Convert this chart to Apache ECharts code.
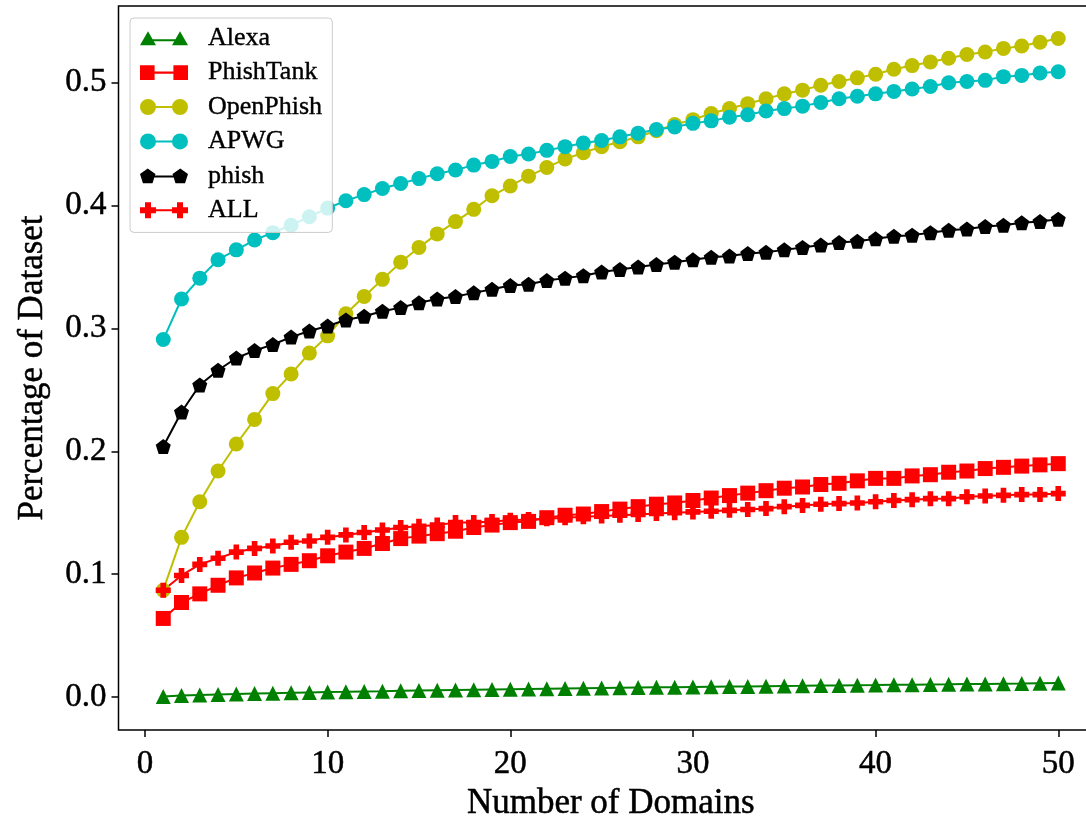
<!DOCTYPE html>
<html>
<head>
<meta charset="utf-8">
<script src="https://cdn.jsdelivr.net/npm/echarts@6/dist/echarts.min.js"></script>
<style>
  html, body { margin: 0; padding: 0; background: #fff; }
  #chart { width: 1086px; height: 817px; }
</style>
</head>
<body>
<div id="chart"></div>
<script>
// x values: number of domains
const domains = [1, 2, 3, 4, 5, 6, 7, 8, 9, 10, 11, 12, 13, 14, 15, 16, 17, 18, 19, 20,
  21, 22, 23, 24, 25, 26, 27, 28, 29, 30, 31, 32, 33, 34, 35, 36, 37, 38, 39, 40,
  41, 42, 43, 44, 45, 46, 47, 48, 49, 50];

const alexa = [0.0005, 0.0012, 0.0017, 0.0021, 0.0025, 0.0029, 0.0032, 0.0035, 0.0038, 0.0041,
  0.0043, 0.0046, 0.0048, 0.0051, 0.0053, 0.0055, 0.0057, 0.0059, 0.0061, 0.0063,
  0.0065, 0.0067, 0.0069, 0.0071, 0.0073, 0.0075, 0.0077, 0.0079, 0.0080, 0.0082,
  0.0084, 0.0086, 0.0087, 0.0089, 0.0091, 0.0092, 0.0094, 0.0095, 0.0097, 0.0098,
  0.0100, 0.0101, 0.0103, 0.0104, 0.0106, 0.0107, 0.0109, 0.0110, 0.0112, 0.0114];

const phishTank = [0.064, 0.077, 0.084, 0.091, 0.097, 0.101, 0.105, 0.108, 0.111, 0.115,
  0.118, 0.121, 0.125, 0.129, 0.131, 0.133, 0.135, 0.138, 0.140, 0.142,
  0.143, 0.146, 0.148, 0.149, 0.151, 0.153, 0.155, 0.157, 0.158, 0.160,
  0.162, 0.164, 0.166, 0.168, 0.170, 0.171, 0.173, 0.174, 0.176, 0.178,
  0.178, 0.180, 0.181, 0.183, 0.184, 0.186, 0.187, 0.188, 0.189, 0.190];

const openPhish = [0.087, 0.130, 0.159, 0.184, 0.206, 0.226, 0.247, 0.263, 0.280, 0.294,
  0.312, 0.326, 0.340, 0.354, 0.366, 0.377, 0.387, 0.397, 0.408, 0.416,
  0.424, 0.431, 0.438, 0.443, 0.448, 0.452, 0.456, 0.461, 0.466, 0.470,
  0.475, 0.479, 0.483, 0.487, 0.491, 0.494, 0.498, 0.501, 0.504, 0.507,
  0.511, 0.514, 0.517, 0.520, 0.523, 0.525, 0.528, 0.530, 0.533, 0.536];

const apwg = [0.291, 0.324, 0.341, 0.356, 0.364, 0.372, 0.378, 0.384, 0.391, 0.398,
  0.404, 0.409, 0.414, 0.418, 0.422, 0.426, 0.429, 0.433, 0.436, 0.440,
  0.442, 0.445, 0.448, 0.451, 0.453, 0.456, 0.459, 0.462, 0.464, 0.467,
  0.469, 0.472, 0.474, 0.477, 0.479, 0.481, 0.484, 0.487, 0.489, 0.491,
  0.493, 0.495, 0.497, 0.500, 0.501, 0.502, 0.505, 0.506, 0.508, 0.509];

const phish = [0.204, 0.232, 0.254, 0.266, 0.276, 0.282, 0.287, 0.293, 0.298, 0.302,
  0.307, 0.310, 0.314, 0.317, 0.321, 0.324, 0.326, 0.329, 0.332, 0.335,
  0.336, 0.339, 0.341, 0.343, 0.346, 0.348, 0.350, 0.352, 0.354, 0.356,
  0.358, 0.359, 0.361, 0.362, 0.364, 0.366, 0.368, 0.370, 0.371, 0.373,
  0.375, 0.376, 0.378, 0.380, 0.381, 0.383, 0.384, 0.386, 0.387, 0.389];

const all = [0.087, 0.099, 0.108, 0.113, 0.118, 0.121, 0.123, 0.126, 0.127, 0.130,
  0.132, 0.134, 0.136, 0.138, 0.139, 0.140, 0.142, 0.142, 0.143, 0.144,
  0.1446, 0.1452, 0.146, 0.1467, 0.1473, 0.148, 0.1487, 0.1494, 0.150, 0.1507,
  0.1513, 0.152, 0.1527, 0.1534, 0.155, 0.156, 0.157, 0.1575, 0.158, 0.159,
  0.160, 0.1607, 0.1615, 0.1615, 0.163, 0.1637, 0.1642, 0.1648, 0.1648, 0.1656];

const xTicks = [0, 10, 20, 30, 40, 50];
const yTicks = [0, 0.1, 0.2, 0.3, 0.4, 0.5];

const FONT = '"Liberation Serif", "DejaVu Serif", serif';
// a thin outline makes the serif text look closer to the heavier LaTeX rendering
const TEXT_INK = { color: '#000', textBorderColor: '#000', textBorderWidth: 0.5 };

// marker shapes
const PENTAGON = 'path://M8,0 L15.6,5.5 L12.7,14.5 L3.3,14.5 L0.4,5.5 Z';
const PLUS = 'path://M5,0 L11,0 L11,5 L16,5 L16,11 L11,11 L11,16 L5,16 L5,11 L0,11 L0,5 L5,5 Z';

// legend icons: two markers joined by a line, like matplotlib
const ICON_TRI = 'path://M0,15 L8,1 L16,15 Z M32,15 L40,1 L48,15 Z M8,9 L40,9 L40,11 L8,11 Z M0,0 L0,16';
const ICON_SQ = 'path://M1,1 L15,1 L15,15 L1,15 Z M33,1 L47,1 L47,15 L33,15 Z M15,7 L33,7 L33,9 L15,9 Z';
const ICON_CIRC = 'path://M0,8 A8,8 0 1 1 16,8 A8,8 0 1 1 0,8 Z M32,8 A8,8 0 1 1 48,8 A8,8 0 1 1 32,8 Z M8,7 L40,7 L40,9 L8,9 Z';
const ICON_PENT = 'path://M8,0 L15.6,5.5 L12.7,14.5 L3.3,14.5 L0.4,5.5 Z M40,0 L47.6,5.5 L44.7,14.5 L35.3,14.5 L32.4,5.5 Z M8,7 L40,7 L40,9 L8,9 Z';
const ICON_PLUS = 'path://M5,0 L11,0 L11,5 L16,5 L16,11 L11,11 L11,16 L5,16 L5,11 L0,11 L0,5 L5,5 Z M37,0 L43,0 L43,5 L48,5 L48,11 L43,11 L43,16 L37,16 L37,11 L32,11 L32,5 L37,5 Z M16,7 L32,7 L32,9 L16,9 Z';

const makeSeries = (name, values, color, symbol, size) => ({
  name: name,
  type: 'line',
  data: values.map((v, i) => [domains[i], v]),
  symbol: symbol,
  symbolSize: size,
  showAllSymbol: true,
  itemStyle: { color: color },
  lineStyle: { color: color, width: 2 },
  emphasis: { disabled: true }
});

const chart = echarts.init(document.getElementById('chart'), null, { renderer: 'canvas' });

chart.setOption({
  backgroundColor: '#fff',
  animation: false,
  grid: {
    left: 118.5,
    right: -17,
    top: 6,
    bottom: 87,
    outerBoundsMode: 'none',
    containLabel: false,
    show: true,
    borderColor: '#000',
    borderWidth: 1.5
  },
  legend: {
    orient: 'vertical',
    left: 130,
    top: 18,
    padding: [7, 10, 9, 10],
    itemWidth: 48,
    itemHeight: 16,
    itemGap: 8,
    selectedMode: false,
    backgroundColor: 'rgba(255,255,255,0.8)',
    borderColor: '#cccccc',
    borderWidth: 1,
    borderRadius: 4,
    textStyle: Object.assign({ fontFamily: FONT, fontSize: 26, padding: [0, 0, 0, 15] }, TEXT_INK, { textBorderWidth: 0.4 }),
    data: [
      { name: 'Alexa', icon: ICON_TRI },
      { name: 'PhishTank', icon: ICON_SQ },
      { name: 'OpenPhish', icon: ICON_CIRC },
      { name: 'APWG', icon: ICON_CIRC },
      { name: 'phish', icon: ICON_PENT },
      { name: 'ALL', icon: ICON_PLUS }
    ]
  },
  xAxis: {
    type: 'value',
    min: -1.45,
    max: 52.45,
    name: 'Number of Domains',
    nameLocation: 'middle',
    nameGap: 55,
    nameTextStyle: Object.assign({ fontFamily: FONT, fontSize: 35 }, TEXT_INK),
    axisLine: { show: false, onZero: false },
    splitLine: { show: false },
    axisTick: { show: true, length: 7, lineStyle: { color: '#000', width: 1.5 }, customValues: xTicks },
    axisLabel: Object.assign({
      customValues: xTicks,
      fontFamily: FONT, fontSize: 33, margin: 18,
      formatter: (v) => String(v)
    }, TEXT_INK)
  },
  yAxis: {
    type: 'value',
    min: -0.0268,
    max: 0.5625,
    name: 'Percentage of Dataset',
    nameLocation: 'middle',
    nameGap: 68,
    nameTextStyle: Object.assign({ fontFamily: FONT, fontSize: 35 }, TEXT_INK),
    axisLine: { show: false, onZero: false },
    splitLine: { show: false },
    axisTick: { show: true, length: 7, lineStyle: { color: '#000', width: 1.5 }, customValues: yTicks },
    axisLabel: Object.assign({
      customValues: yTicks,
      fontFamily: FONT, fontSize: 33, margin: 12,
      formatter: (v) => v.toFixed(1)
    }, TEXT_INK)
  },
  series: [
    makeSeries('Alexa', alexa, '#008000', 'triangle', 15),
    makeSeries('PhishTank', phishTank, '#ff0000', 'rect', 15),
    makeSeries('OpenPhish', openPhish, '#bfbf00', 'circle', 15),
    makeSeries('APWG', apwg, '#00bfbf', 'circle', 15),
    makeSeries('phish', phish, '#000000', PENTAGON, 15),
    makeSeries('ALL', all, '#ff0000', PLUS, 15)
  ]
});

window.addEventListener('resize', () => chart.resize());
</script>
</body>
</html>
